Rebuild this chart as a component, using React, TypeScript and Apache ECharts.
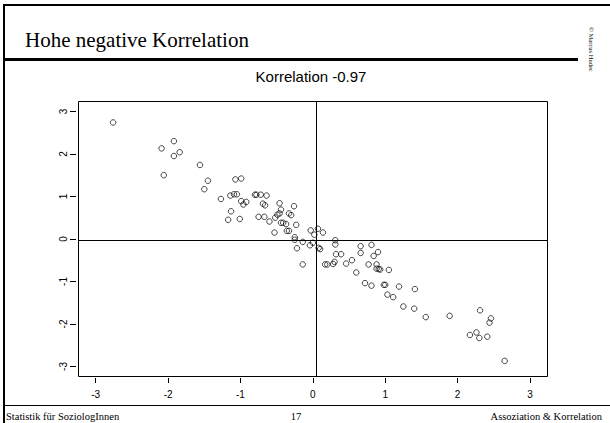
import React, { useEffect, useRef } from "react";
import * as echarts from "echarts";

const xValues = [
  -2.76, -2.09, -1.92, -1.92, -1.84, -2.06, -1.56, -1.45, -1.5, -1.27,
  -1.14, -1.09, -1.05, -1.07, -0.99, -0.99, -0.92, -0.96, -1.13, -1.17,
  -1.01, -0.8, -0.78, -0.72, -0.64, -0.69, -0.66, -0.75, -0.67, -0.6,
  -0.53, -0.52, -0.49, -0.46, -0.46, -0.44, -0.44, -0.41, -0.37, -0.36,
  -0.33, -0.33, -0.3, -0.26, -0.23, -0.25, -0.25, -0.22, -0.14, -0.04,
  -0.03, 0.02, 0.07, 0.14, 0.0, 0.08, 0.1, 0.31, 0.31, 0.32,
  0.39, -0.14, 0.17, 0.2, 0.28, 0.3, 0.46, 0.54, 0.66, 0.66,
  0.81, 0.84, 0.9, 0.6, 0.77, 0.88, 0.88, 0.91, 0.93, 1.05,
  0.72, 0.81, 0.98, 1.0, 1.19, 1.41, 1.03, 1.11, 1.25, 1.4,
  1.56, 1.89, 2.31, 2.46, 2.44, 2.17, 2.26, 2.3, 2.41, 2.65,
];
const yValues = [
  2.74, 2.13, 2.3, 1.95, 2.04, 1.5, 1.74, 1.37, 1.17, 0.94,
  1.02, 1.05, 1.05, 1.4, 1.42, 0.89, 0.87, 0.81, 0.65, 0.45,
  0.47, 1.04, 1.04, 1.04, 1.02, 0.83, 0.79, 0.52, 0.52, 0.41,
  0.15, 0.5, 0.57, 0.6, 0.84, 0.69, 0.38, 0.38, 0.35, 0.19,
  0.19, 0.6, 0.56, 0.77, 0.33, 0.04, -0.02, -0.22, -0.07, -0.15,
  0.2, 0.1, 0.24, 0.15, -0.09, -0.21, -0.24, -0.03, -0.13, -0.36,
  -0.36, -0.6, -0.6, -0.6, -0.59, -0.54, -0.58, -0.5, -0.17, -0.33,
  -0.14, -0.4, -0.31, -0.79, -0.6, -0.6, -0.7, -0.71, -0.72, -0.73,
  -1.04, -1.1, -1.08, -1.08, -1.12, -1.18, -1.31, -1.37, -1.59, -1.64,
  -1.84, -1.81, -1.68, -1.87, -1.97, -2.26, -2.2, -2.33, -2.3, -2.87,
];
const tickValues = [-3, -2, -1, 0, 1, 2, 3];
const refLineX = 0.04;
const refLineY = -0.03;

const slideTitle = "Hohe negative Korrelation";
const plotTitle = "Korrelation -0.97";
const footerLeft = "Statistik für SoziologInnen";
const footerMid = "17";
const footerRight = "Assoziation & Korrelation";
const copyright = "© Marcus Hudec";

export default function App() {
  const ref = useRef<HTMLDivElement>(null);
  useEffect(() => {
    if (!ref.current) return;
    const chart = echarts.init(ref.current, null, { renderer: "svg" });
    const points = xValues.map((x, i) => [x, yValues[i]]);
    const serif = "'Liberation Serif', 'Times New Roman', serif";
    const sans = "'Liberation Sans', Arial, sans-serif";
    const grid = { left: 78, top: 101, width: 469, height: 275 };
    chart.setOption({
      animation: false,
      backgroundColor: "#fff",
      grid: { ...grid, show: false },
      xAxis: {
        type: "value",
        min: -3.245,
        max: 3.235,
        offset: 2,
        axisLine: { show: false, onZero: false },
        splitLine: { show: false },
        axisTick: {
          show: true,
          length: 5,
          customValues: tickValues,
          lineStyle: { color: "#000", width: 1 },
        },
        axisLabel: {
          customValues: tickValues,
          margin: 11,
          color: "#000",
          fontFamily: sans,
          fontSize: 10,
        },
      },
      yAxis: {
        type: "value",
        min: -3.225,
        max: 3.245,
        offset: 2,
        axisLine: { show: false, onZero: false },
        splitLine: { show: false },
        axisTick: {
          show: true,
          length: 6,
          customValues: tickValues,
          lineStyle: { color: "#000", width: 1 },
        },
        axisLabel: {
          customValues: tickValues,
          rotate: 90,
          margin: 8,
          color: "#000",
          fontFamily: sans,
          fontSize: 10,
        },
      },
      series: [
        {
          type: "scatter",
          data: points,
          symbol: "circle",
          symbolSize: 5.5,
          itemStyle: {
            color: "rgba(0,0,0,0)",
            borderColor: "#000",
            borderWidth: 0.9,
          },
          markLine: {
            silent: true,
            symbol: "none",
            label: { show: false },
            lineStyle: { color: "#000", width: 1, type: "solid" },
            data: [{ xAxis: refLineX }, { yAxis: refLineY }],
          },
        },
      ],
      graphic: [
        { type: "rect", shape: { x: 3, y: 4, width: 607, height: 2 }, style: { fill: "#000" } },
        { type: "rect", shape: { x: 3, y: 4, width: 2, height: 419 }, style: { fill: "#000" } },
        { type: "rect", shape: { x: 3, y: 58, width: 575, height: 3 }, style: { fill: "#000" } },
        { type: "line", shape: { x1: 3, y1: 405.5, x2: 610, y2: 405.5 }, style: { stroke: "#000", lineWidth: 1 } },
        {
          type: "rect",
          shape: { x: grid.left + 0.5, y: grid.top + 0.5, width: grid.width, height: grid.height },
          style: { fill: "none", stroke: "#000", lineWidth: 1 },
        },
        {
          type: "text",
          x: 25,
          y: 40,
          style: { text: slideTitle, font: `21px ${serif}`, fill: "#000", align: "left", verticalAlign: "middle" },
        },
        {
          type: "text",
          x: 311,
          y: 76,
          style: { text: plotTitle, font: `15px ${sans}`, fill: "#000", align: "center", verticalAlign: "middle" },
        },
        {
          type: "text",
          x: 591,
          y: 27,
          rotation: -Math.PI / 2,
          style: { text: copyright, font: `6.5px ${serif}`, fill: "#000", align: "left", verticalAlign: "middle" },
        },
        {
          type: "text",
          x: 6,
          y: 416,
          style: { text: footerLeft, font: `10.5px ${serif}`, fill: "#000", align: "left", verticalAlign: "middle" },
        },
        {
          type: "text",
          x: 296,
          y: 416,
          style: { text: footerMid, font: `10.5px ${serif}`, fill: "#000", align: "center", verticalAlign: "middle" },
        },
        {
          type: "text",
          x: 602,
          y: 416,
          style: { text: footerRight, font: `10.5px ${serif}`, fill: "#000", align: "right", verticalAlign: "middle" },
        },
      ],
    });
    return () => chart.dispose();
  }, []);
  return (
    <div
      ref={ref}
      style={{ position: "fixed", left: 0, top: 0, width: 610, height: 423, background: "#fff" }}
    />
  );
}
